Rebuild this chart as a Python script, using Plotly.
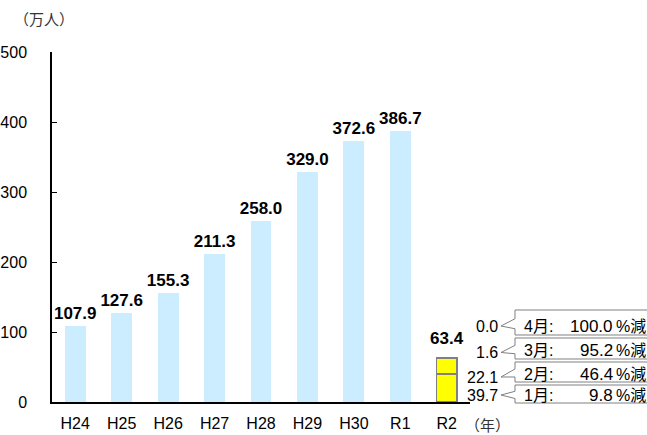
import plotly.graph_objects as go

# ---- data ----
years = ["H24", "H25", "H26", "H27", "H28", "H29", "H30", "R1", "R2"]
visitors = [107.9, 127.6, 155.3, 211.3, 258.0, 329.0, 372.6, 386.7, None]
r2_months = ["1月", "2月", "3月", "4月"]
r2_values = [39.7, 22.1, 1.6, 0.0]
r2_decrease_pct = [9.8, 46.4, 95.2, 100.0]
y_ticks = [0, 100, 200, 300, 400, 500]

W, H = 647, 435
L, R, T, B = 52, 470, 52, 402  # plot area in pixels


def px(x):
    return (x - L) / (R - L)


def py(y):
    return (B - y) / (B - T)


FONT = "Liberation Sans, Noto Sans CJK JP, sans-serif"

fig = go.Figure()

fig.add_trace(go.Bar(
    x=years, y=visitors, width=0.45,
    marker=dict(color="#CCECFF", line=dict(width=0)),
    texttemplate="%{y:.1f}", textposition="outside", cliponaxis=False,
    constraintext="none",
    textfont=dict(family=FONT, size=17, color="black", weight="bold"),
    showlegend=False,
))

for m, v in zip(r2_months, r2_values):
    fig.add_trace(go.Bar(
        x=["R2"], y=[v], width=0.45, name=m,
        marker=dict(color="#FFFF00", line=dict(color="#808080", width=1.5)),
        showlegend=False,
    ))

total = round(sum(r2_values), 1)
fig.add_annotation(x="R2", y=total, xref="x", yref="y", text=f"{total:.1f}",
                   showarrow=False, yanchor="bottom", yshift=8,
                   font=dict(family=FONT, size=17, color="black", weight="bold"))

# callouts (pixel layout of the boxes, values from data)
boxes = [(385, 403, 395), (362, 382, 374), (338, 359, 350), (310, 335, 326)]
label_y = [395, 377, 352.5, 326]
shapes = []
for i, (m, v, p) in enumerate(zip(r2_months, r2_values, r2_decrease_pct)):
    top, bot, ty = boxes[i]
    yl = label_y[i]
    bl, br, tipx = 515, 665, 501
    h = bot - top
    y1, y2 = top + 0.35 * h, top + 0.75 * h
    pts = [(bl, top), (br, top), (br, bot), (bl, bot), (bl, y2), (tipx, yl), (bl, y1)]
    path = "M " + " L ".join(f"{px(a):.5f},{py(b):.5f}" for a, b in pts) + " Z"
    shapes.append(dict(type="path", path=path, xref="paper", yref="paper",
                       fillcolor="white", line=dict(color="#808080", width=1)))
    fig.add_annotation(x=px(500), y=py(yl), xref="paper", yref="paper",
                       text=f"{v:.1f}", showarrow=False, xanchor="right", yanchor="middle",
                       font=dict(family=FONT, size=16, color="black"))
    fig.add_annotation(x=px(522), y=py(ty), xref="paper", yref="paper",
                       text=f"{m}:", showarrow=False, xanchor="left", yanchor="middle",
                       font=dict(family=FONT, size=16, color="black"))
    fig.add_annotation(x=px(615), y=py(ty), xref="paper", yref="paper",
                       text=f"{p:.1f}", showarrow=False, xanchor="right", yanchor="middle",
                       font=dict(family=FONT, size=17, color="black"))
    fig.add_annotation(x=px(614), y=py(ty), xref="paper", yref="paper",
                       text="%減", showarrow=False, xanchor="left", yanchor="middle",
                       font=dict(family=FONT, size=16, color="black"))

fig.add_annotation(x=px(44), y=py(19), xref="paper", yref="paper", text="（万人）",
                   showarrow=False, xanchor="center", yanchor="middle",
                   font=dict(family="Noto Sans CJK JP", size=15, color="#333333"))
fig.add_annotation(x=px(488), y=py(425), xref="paper", yref="paper", text="（年）",
                   showarrow=False, xanchor="center", yanchor="middle",
                   font=dict(family="Noto Sans CJK JP", size=15, color="#333333"))

fig.update_layout(
    width=W, height=H, barmode="stack",
    margin=dict(l=L, r=W - R, t=T, b=H - B, autoexpand=False),
    plot_bgcolor="white", paper_bgcolor="white",
    shapes=shapes,
    xaxis=dict(range=[-0.5, 8.5], showline=True, linecolor="black", linewidth=1.5,
               ticks="", showgrid=False, zeroline=False, ticklabelstandoff=6,
               automargin=False,
               tickfont=dict(family=FONT, size=16, color="black")),
    yaxis=dict(range=[0, 500], tickvals=y_ticks, showline=True, linecolor="black",
               linewidth=1.5, ticks="inside", ticklen=5, tickcolor="black",
               showgrid=False, zeroline=False, ticklabelstandoff=20,
               automargin=False,
               tickfont=dict(family=FONT, size=16, color="black")),
)

fig.write_html("out.html")
